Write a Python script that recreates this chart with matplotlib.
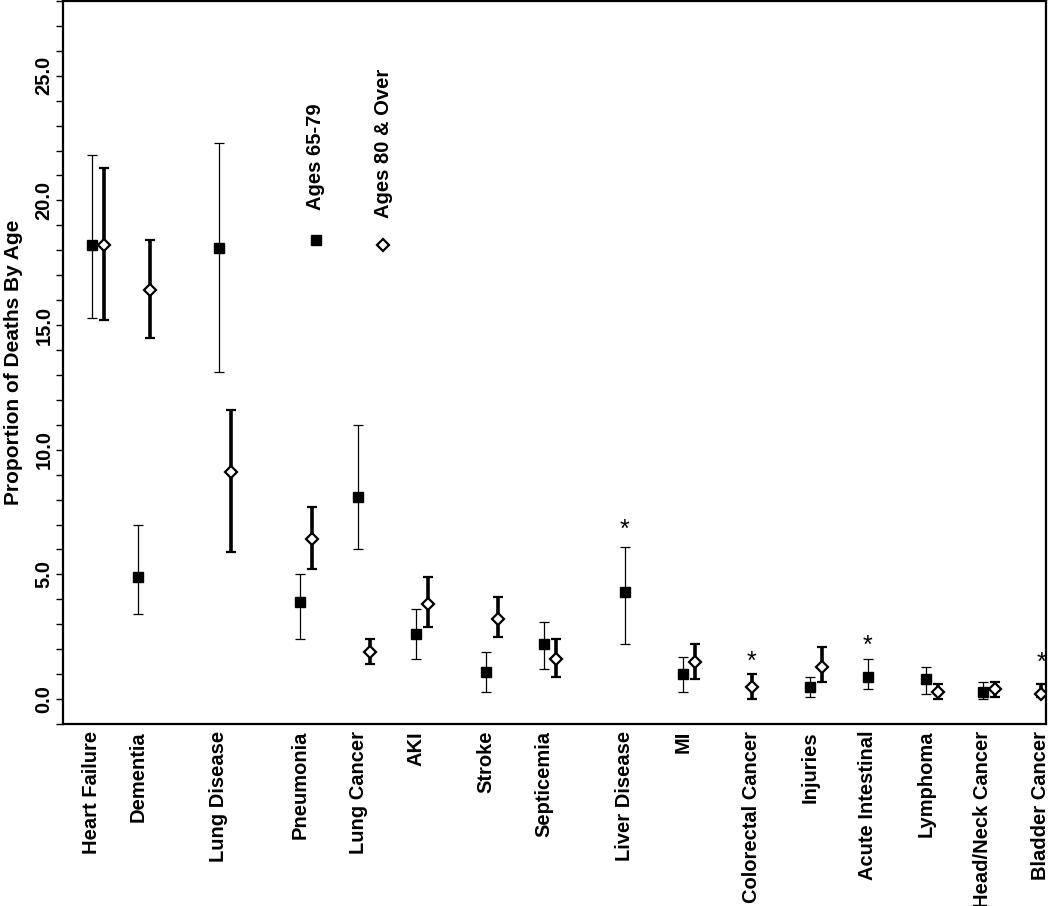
import numpy as np
import matplotlib
matplotlib.use("Agg")
import matplotlib.pyplot as plt
from matplotlib.ticker import MultipleLocator, FormatStrFormatter

plt.rcParams['font.family'] = ['Liberation Sans', 'DejaVu Sans']
plt.rcParams['font.weight'] = 'bold'

causes = ['Heart Failure', 'Dementia', 'Lung Disease', 'Pneumonia', 'Lung Cancer',
          'AKI', 'Stroke', 'Septicemia', 'Liver Disease', 'MI', 'Colorectal Cancer',
          'Injuries', 'Acute Intestinal', 'Lymphoma', 'Head/Neck Cancer', 'Bladder Cancer']
# category slot on the x axis (irregular spacing as in the original)
slot = [0.5, 1.29, 2.69, 4.09, 5.09, 6.09, 7.29, 8.29, 9.69, 10.69, 11.67,
        12.88, 13.88, 14.88, 15.86, 16.66]

nan = np.nan
# Ages 65-79
young = [18.2, 4.9, 18.1, 3.9, 8.1, 2.6, 1.1, 2.2, 4.3, 1.0, nan, 0.5, 0.9, 0.8, 0.3, nan]
young_lo = [15.3, 3.4, 13.1, 2.4, 6.0, 1.6, 0.3, 1.2, 2.2, 0.3, nan, 0.1, 0.4, 0.2, 0.0, nan]
young_hi = [21.8, 7.0, 22.3, 5.0, 11.0, 3.6, 1.9, 3.1, 6.1, 1.7, nan, 0.9, 1.6, 1.3, 0.7, nan]
# Ages 80 & Over
old = [18.2, 16.4, 9.1, 6.4, 1.9, 3.8, 3.2, 1.6, nan, 1.5, 0.5, 1.3, nan, 0.3, 0.4, 0.2]
old_lo = [15.2, 14.5, 5.9, 5.2, 1.4, 2.9, 2.5, 0.9, nan, 0.8, 0.0, 0.7, nan, 0.0, 0.1, 0.1]
old_hi = [21.3, 18.4, 11.6, 7.7, 2.4, 4.9, 4.1, 2.4, nan, 2.2, 1.0, 2.1, nan, 0.6, 0.7, 0.6]
# significance markers
star_cause = ['Liver Disease', 'Colorectal Cancer', 'Acute Intestinal', 'Bladder Cancer']
star_y = [6.8, 1.5, 2.15, 1.45]

slot = np.array(slot)
young = np.array(young); old = np.array(old)
off = 0.207
x_young = slot
x_old = slot + off

fig = plt.figure(figsize=(10.5, 9.06), dpi=100)
ax = fig.add_axes([0.06, 0.2009, 0.936, 0.7981])

ax.errorbar(x_young, young,
            yerr=[young - np.array(young_lo), np.array(young_hi) - young],
            fmt='s', ms=7, color='black', mfc='black', mec='black',
            elinewidth=0.9, capsize=3.6, capthick=0.9, zorder=3)
ax.errorbar(x_old, old,
            yerr=[old - np.array(old_lo), np.array(old_hi) - old],
            fmt='D', ms=6.5, color='black', mfc='white', mec='black', mew=1.6,
            elinewidth=2.6, capsize=3.6, capthick=2.6, zorder=3)

# asterisks above the flagged estimates
for c, sy in zip(star_cause, star_y):
    i = causes.index(c)
    sx = x_young[i] if not np.isnan(young[i]) else x_old[i]
    ax.text(sx, sy, '*', ha='center', va='center', fontsize=18, fontweight='normal')

# legend drawn inside the plot, vertical text like the original
ax.plot([0.257], [0.669], 's', ms=7, color='black', transform=ax.transAxes)
ax.text(0.257, 0.711, 'Ages 65-79', rotation=90, ha='center', va='bottom',
        fontsize=14.5, transform=ax.transAxes)
ax.plot([0.326], [0.663], 'D', ms=6.5, mfc='white', mec='black', mew=1.6,
        transform=ax.transAxes)
ax.text(0.326, 0.70, 'Ages 80 & Over', rotation=90, ha='center', va='bottom',
        fontsize=14.5, transform=ax.transAxes)

# x tick at the position of the first present marker
tick_x = [x_young[i] if not np.isnan(young[i]) else x_old[i] for i in range(len(causes))]
ax.set_xticks(tick_x)
ax.set_xticklabels(causes, rotation=90, fontsize=14.5, fontweight='bold')
ax.tick_params(axis='x', length=0, pad=5)

ax.set_xlim(0, 16.95)
ax.set_ylim(-1, 28)
ax.yaxis.set_major_locator(MultipleLocator(5))
ax.yaxis.set_minor_locator(MultipleLocator(1))
ax.yaxis.set_major_formatter(FormatStrFormatter('%.1f'))
ax.tick_params(axis='y', which='both', length=5, width=1, direction='out', pad=2)
for lab in ax.get_yticklabels():
    lab.set_rotation(90)
    lab.set_va('center')
    lab.set_fontsize(14.5)
    lab.set_fontweight('bold')

ax.set_ylabel('Proportion of Deaths By Age', fontsize=15, fontweight='bold', labelpad=8)

for s in ax.spines.values():
    s.set_linewidth(1.6)

plt.savefig('out.png', dpi=100)
